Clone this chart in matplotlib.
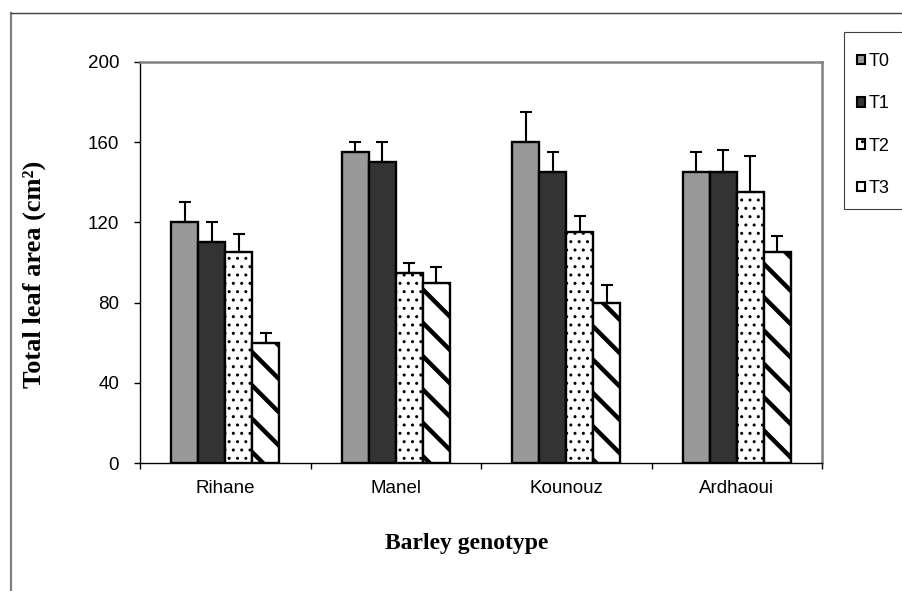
import numpy as np
import matplotlib.pyplot as plt
from matplotlib.patches import Patch, Rectangle
from matplotlib.lines import Line2D

# data
genotypes = ['Rihane', 'Manel', 'Kounouz', 'Ardhaoui']
treatments = ['T0', 'T1', 'T2', 'T3']
t0 = [120, 155, 160, 145]
t1 = [110, 150, 145, 145]
t2 = [105, 95, 115, 135]
t3 = [60, 90, 80, 105]
t0_err = [10, 5, 15, 10]
t1_err = [10, 10, 10, 11]
t2_err = [9, 5, 8, 18]
t3_err = [5, 8, 9, 8]
yticks = [0, 40, 80, 120, 160, 200]

values = [t0, t1, t2, t3]
errors = [t0_err, t1_err, t2_err, t3_err]
faces = ['#999999', '#333333', 'white', 'white']
hatches = [None, None, '..', '\\']
hatch_lw = [1.0, 1.0, 1.0, 3.2]

W, H = 902, 591
fig = plt.figure(figsize=(W / 100, H / 100), dpi=100)
ax = fig.add_axes([140 / W, 1 - 463 / H, 682 / W, 401 / H])

x = np.arange(len(genotypes))
width = 0.158
for i in range(4):
    with plt.rc_context({'hatch.linewidth': hatch_lw[i], 'hatch.color': 'black'}):
        ax.bar(x + (i - 1.5) * width, values[i], width, color=faces[i],
               edgecolor='black', linewidth=1.7, hatch=hatches[i], zorder=2)
    ax.errorbar(x + (i - 1.5) * width, values[i],
                yerr=[np.zeros(4), errors[i]], fmt='none', ecolor='black',
                elinewidth=1.5, capsize=4.3, capthick=1.5, zorder=3)

ax.set_xlim(-0.5, 3.5)
ax.set_ylim(0, 200)
ax.set_yticks(yticks)
ax.set_xticks(x)
ax.set_xticklabels(genotypes)
ax.set_xticks(np.arange(-0.5, 4, 1), minor=True)
ax.tick_params(axis='x', which='major', length=0, pad=12)
ax.tick_params(axis='x', which='minor', length=4, width=1, direction='out')
ax.tick_params(axis='y', length=4, width=1, direction='out', pad=11)
for lab in ax.get_xticklabels() + ax.get_yticklabels():
    lab.set_family('Liberation Sans')
    lab.set_fontsize(13.5)

for s in ['left', 'bottom']:
    ax.spines[s].set_color('black')
    ax.spines[s].set_linewidth(1)
for s in ['top', 'right']:
    ax.spines[s].set_color('#808080')
    ax.spines[s].set_linewidth(1.8)

fig.text(34 / W, 1 - 274 / H, 'Total leaf area (cm²)', rotation=90,
         ha='center', va='center', family='Liberation Serif',
         fontweight='bold', fontsize=19)
fig.text(467 / W, 1 - 543 / H, 'Barley genotype', ha='center', va='center',
         family='Liberation Serif', fontweight='bold', fontsize=17)

handles = []
for i in range(4):
    with plt.rc_context({'hatch.linewidth': 1.5}):
        handles.append(Patch(facecolor=faces[i], edgecolor='black',
                             linewidth=1.5, hatch=hatches[i]))
fig.legend(handles, treatments, loc='upper left',
           bbox_to_anchor=(857 / W, 1 - 53 / H), borderaxespad=0,
           handlelength=0.42, handleheight=0.42, handletextpad=0.25,
           labelspacing=1.4, borderpad=0, frameon=False,
           prop={'family': 'Liberation Sans', 'size': 13})
# legend box, runs off the right edge like the original
fig.add_artist(Rectangle((844 / W, 1 - 209 / H), 70 / W, 177 / H,
                         transform=fig.transFigure, fill=False,
                         edgecolor='#404040', linewidth=0.8))

# outer chart frame
fig.add_artist(Line2D([11 / W, 11 / W], [0, 1 - 13 / H], color='#808080',
                      linewidth=1.6))
fig.add_artist(Line2D([11 / W, 1], [1 - 13 / H, 1 - 13 / H], color='#404040',
                      linewidth=1))

fig.savefig('out.png', dpi=100)
